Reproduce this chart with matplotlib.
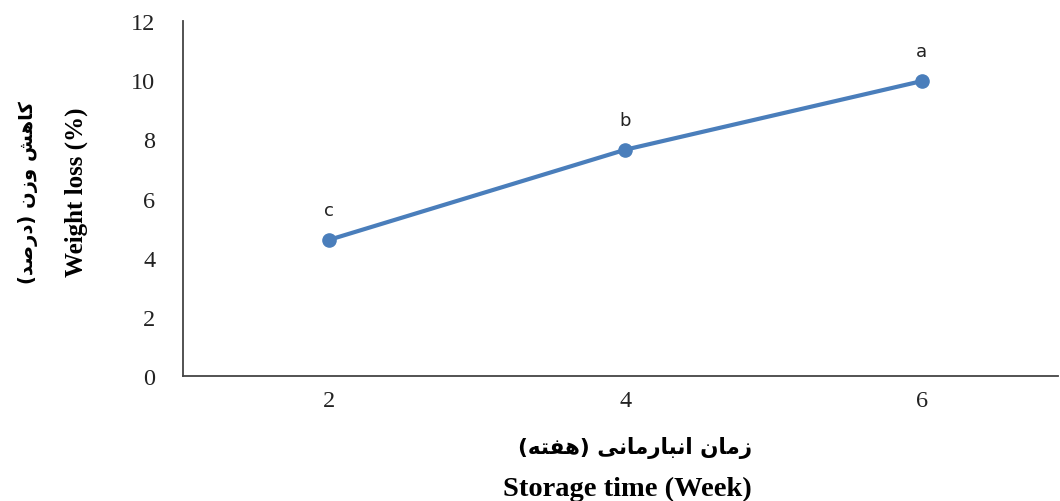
import matplotlib
matplotlib.use("Agg")
from matplotlib import pyplot as plt

# data
weeks = ["2", "4", "6"]
weight_loss = [4.6, 7.65, 9.97]
letters = ["c", "b", "a"]
y_ticks = [0, 2, 4, 6, 8, 10, 12]

# persian labels, written in visual order with presentation forms (no shaping in mpl)
# زمان انبارمانی (هفته)
fa_xlabel = ("(" + "\uFEEA\uFE98\uFED4\uFEEB" + ") "
             + "\uFBFD\uFEE7\uFE8E\uFEE3\uFEAD\uFE8E\uFE92\uFEE7\uFE8D" + " "
             + "\uFEE5\uFE8E\uFEE3\uFEAF")
# کاهش وزن (درصد)
fa_ylabel = ("(" + "\uFEAA\uFEBB\uFEAD\uFEA9" + ") "
             + "\uFEE5\uFEAF\uFEED" + " "
             + "\uFEB6\uFEEB\uFE8E\uFB90")
en_xlabel = "Storage time (Week)"
en_ylabel = "Weight loss (%)"

blue = "#4a7ebb"

fig = plt.figure(figsize=(10.6, 5.02), dpi=100)
ax = fig.add_axes([183 / 1060, 1 - 377 / 502, (1058 - 183) / 1060, (377 - 22) / 502])

xs = range(len(weeks))
ax.plot(xs, weight_loss, color=blue, lw=3, marker="o", ms=9.5, solid_capstyle="round")
for x, v, l in zip(xs, weight_loss, letters):
    ax.annotate(l, (x, v), xytext=(0, 15), textcoords="offset points", ha="center",
                va="bottom", fontsize=13, family="DejaVu Sans", color="#222222")

ax.set_xlim(-0.492, 2.459)
ax.set_ylim(0, 12)
ax.set_yticks(y_ticks)
ax.set_xticks(list(xs))
ax.set_xticklabels(weeks)
for s in ["top", "right"]:
    ax.spines[s].set_visible(False)
for s in ["left", "bottom"]:
    ax.spines[s].set_color("#444444")
    ax.spines[s].set_linewidth(1.3)
ax.tick_params(length=0, labelsize=17.5, labelfontfamily="Liberation Serif", colors="#222222")
ax.tick_params(axis="y", pad=20)
ax.tick_params(axis="x", pad=10)

fig.text(0.599, 1 - 448 / 502, fa_xlabel, ha="center", va="center", fontsize=15.5,
         fontweight="bold", family=["DejaVu Sans"])
fig.text(0.592, 1 - 489 / 502, en_xlabel, ha="center", va="center", fontsize=20.5,
         fontweight="bold", family="Liberation Serif")
fig.text(28 / 1060, 1 - 193 / 502, fa_ylabel, ha="center", va="center", rotation=90,
         fontsize=14, fontweight="bold", family=["DejaVu Sans"])
fig.text(76 / 1060, 1 - 192 / 502, en_ylabel, ha="center", va="center", rotation=90,
         fontsize=18, fontweight="bold", family="Liberation Serif")

fig.savefig("out.png", dpi=100)
